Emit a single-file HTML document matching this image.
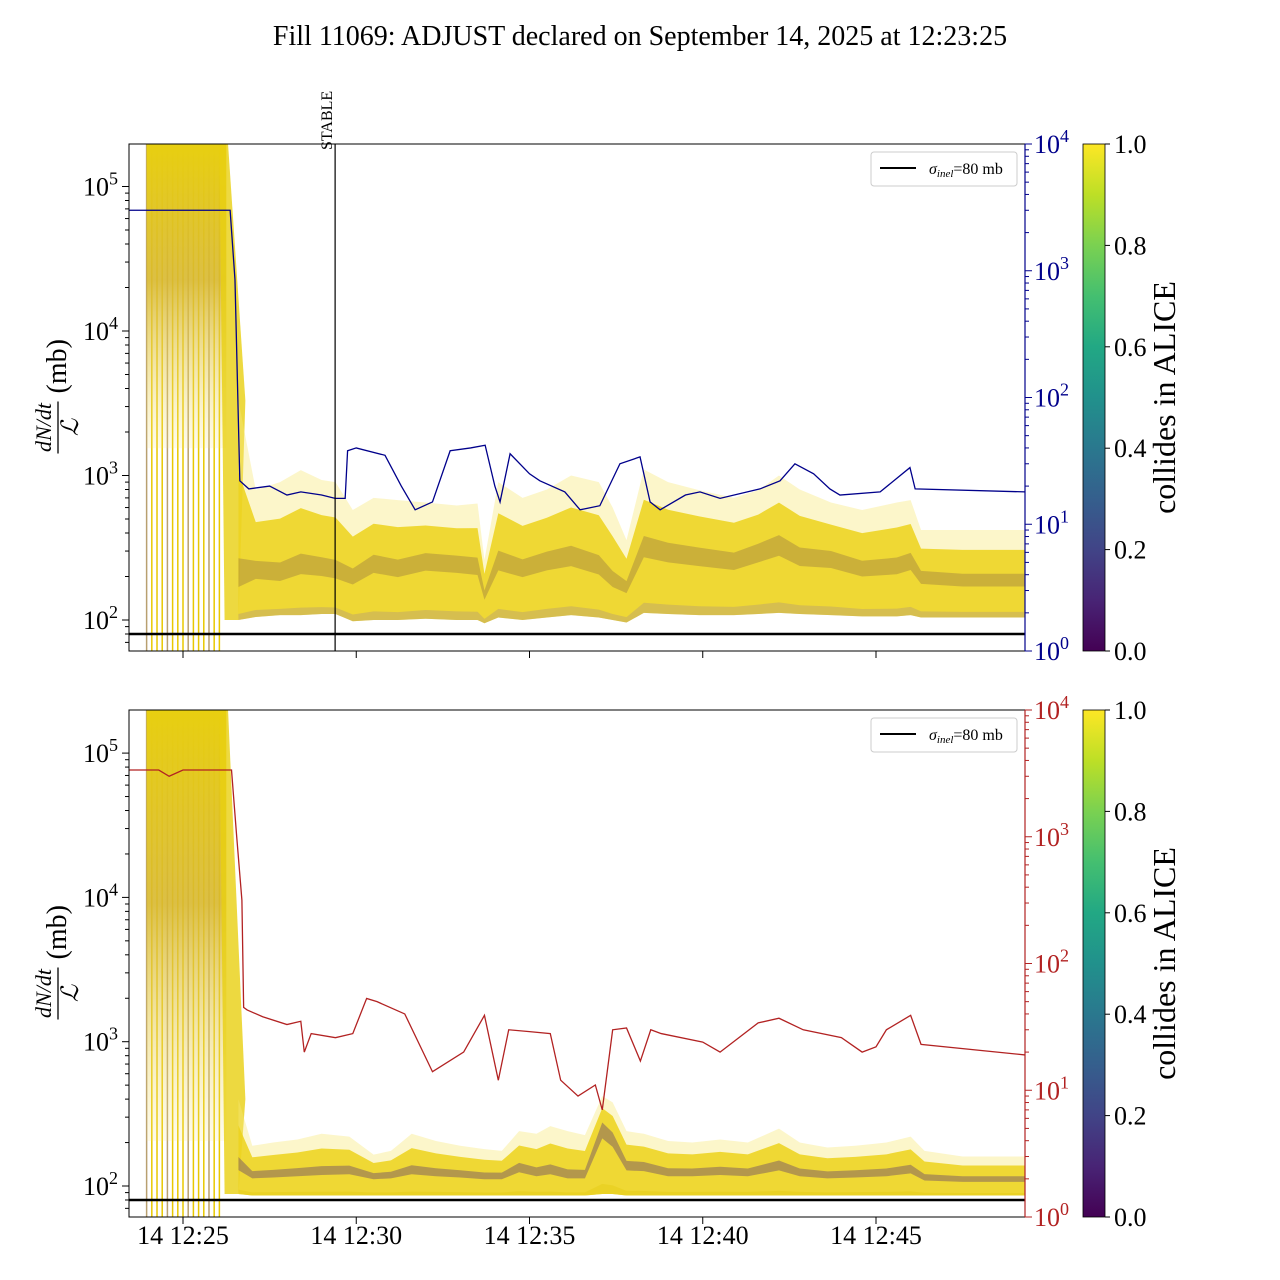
<!DOCTYPE html>
<html><head><meta charset="utf-8">
<style>
html,body{margin:0;padding:0;background:#fff;}
svg{display:block;font-family:"Liberation Serif","DejaVu Serif",serif;}
</style></head>
<body>
<svg id="chart" width="1280" height="1280" viewBox="0 0 1280 1280" xmlns="http://www.w3.org/2000/svg">
<defs>
  <linearGradient id="viridis" x1="0" y1="1" x2="0" y2="0">
    <stop offset="0" stop-color="#440154"/><stop offset="0.1" stop-color="#482475"/><stop offset="0.2" stop-color="#414487"/>
    <stop offset="0.3" stop-color="#355f8d"/><stop offset="0.4" stop-color="#2a788e"/><stop offset="0.5" stop-color="#21918c"/>
    <stop offset="0.6" stop-color="#22a884"/><stop offset="0.7" stop-color="#44bf70"/><stop offset="0.8" stop-color="#7ad151"/>
    <stop offset="0.9" stop-color="#bddf26"/><stop offset="1" stop-color="#fde725"/>
  </linearGradient>
  <linearGradient id="earlyTop" x1="0" y1="0" x2="0" y2="1">
    <stop offset="0" stop-color="#e8cf10"/><stop offset="0.45" stop-color="#d8b830" stop-opacity="0.9"/><stop offset="1" stop-color="#f5e27a" stop-opacity="0.15"/>
  </linearGradient>
  <clipPath id="clipTop"><rect x="129" y="144" width="896" height="507"/></clipPath>
  <clipPath id="clipBot"><rect x="129" y="710" width="896" height="507"/></clipPath>
</defs>
<text x="640" y="45" font-size="28" text-anchor="middle">Fill 11069: ADJUST declared on September 14, 2025 at 12:23:25</text>
<g id="top"></g>
<g id="bot"></g>
</svg>
<script>
// ---- data ----
const xTickTimes = [25, 30, 35, 40, 45];
const xTickLabels = ["14 12:25", "14 12:30", "14 12:35", "14 12:40", "14 12:45"];
const leftTickExps = [2, 3, 4, 5];
const rightTickExps = [0, 1, 2, 3, 4];
const cbarTicks = ["0.0", "0.2", "0.4", "0.6", "0.8", "1.0"];
const spikeTimes = [23.95,24.1,24.25,24.4,24.55,24.7,24.85,25.0,25.15,25.3,25.45,25.6,25.75,25.9,26.05];
const stableTime = 29.39;
const sigmaInel = 80;

// top panel luminosity (blue, right axis)
const blueTimes = [23.44,26.36,26.5,26.64,26.9,27.5,28.0,28.4,29.0,29.39,29.68,29.75,30.0,30.83,31.3,31.7,32.2,32.71,33.3,33.72,34.0,34.15,34.44,35.0,35.3,36.02,36.46,37.03,37.61,38.19,38.48,38.77,39.5,39.92,40.5,41.65,42.23,42.66,43.2,43.67,43.96,45.12,45.98,46.13,49.3];
const blueValues = [3000,3000,850,22,19,20,17,18,17,16,16,38,40,35,20,13,15,38,40,42,20,15,36,25,22,18,13,14,30,34,15,13,17,18,16,19,22,30,25,19,17,18,28,19,18];

// top panel band (dN/dt / L, mb)
const topBandTimes = [26.6,27.1,27.8,28.4,29.0,29.4,29.9,30.5,31.2,32.0,32.9,33.5,33.7,34.1,34.8,35.5,36.2,37.0,37.4,37.8,38.3,39.0,39.9,40.9,41.6,42.2,42.8,43.7,44.6,45.6,46.0,46.3,47.5,49.3];
const topUpper = [3300,795,900,1090,930,900,577,700,676,650,620,640,260,900,700,800,1000,900,600,357,1100,900,790,700,790,1000,800,650,577,650,676,420,420,420];
const topCenter = [190,220,210,240,230,220,200,250,230,260,250,240,150,260,230,260,280,240,190,170,330,300,280,260,300,340,280,270,230,240,260,200,190,190];
const topLower = [100,105,108,108,110,110,98,100,100,102,100,100,95,104,100,104,108,104,100,96,112,110,108,108,110,112,110,108,106,106,108,104,104,104];

// bottom panel luminosity (red, right axis)
const redTimes = [23.44,24.3,24.6,25.0,26.4,26.55,26.7,26.75,26.85,27.3,28.0,28.4,28.5,28.7,29.4,29.9,30.3,30.6,31.4,32.2,33.1,33.7,34.1,34.4,35.0,35.6,35.9,36.4,36.9,37.1,37.4,37.8,38.2,38.5,38.8,40.0,40.5,41.6,42.2,42.9,44.0,44.6,45.0,45.3,46.0,46.3,49.3];
const redValues = [3360,3360,3000,3360,3360,1000,316,45,43,38,33,35,20,28,26,28,53,50,40,14,20,39,12,30,29,28,12,9,11,7,30,31,17,30,28,24,20,34,37,30,26,20,22,30,39,23,19];

// bottom panel band
const botBandTimes = [26.6,27.0,27.6,28.3,29.0,29.8,30.5,31.0,31.6,32.3,33.0,33.7,34.2,34.7,35.2,35.6,36.1,36.6,37.1,37.4,37.8,38.3,39.0,39.7,40.5,41.3,42.2,42.8,43.6,44.4,45.3,46.0,46.4,47.5,49.3];
const botUpper = [400,190,200,210,230,220,165,175,230,205,190,180,175,240,230,260,240,225,420,380,240,230,205,200,210,200,250,200,185,190,200,220,175,160,160];
const botCenter = [140,120,122,125,128,130,118,120,130,125,122,118,118,135,125,130,120,120,260,220,140,138,125,125,128,125,140,125,120,122,125,132,115,112,112];
const botLower = [88,86,86,86,86,86,86,86,86,86,86,86,86,86,86,86,86,86,88,88,86,86,86,86,86,86,86,86,86,86,86,86,86,86,86];

// ---- scales ----
const NS = "http://www.w3.org/2000/svg";
function x(t){ return 183 + (t - 25) * 34.65; }
const panels = {
  top: { g: document.getElementById('top'), y0: 144, y1: 651, yL: v => 620 - (Math.log10(v) - 2) * 144.5, yR: v => 651 - Math.log10(v) * 126.75, rightColor: "#00008b", clip: "clipTop" },
  bot: { g: document.getElementById('bot'), y0: 710, y1: 1217, yL: v => 1186 - (Math.log10(v) - 2) * 144.3, yR: v => 1217 - Math.log10(v) * 126.75, rightColor: "#b22222", clip: "clipBot" }
};
function el(tag, attrs, parent){ const e = document.createElementNS(NS, tag); for (const k in attrs) e.setAttribute(k, attrs[k]); parent.appendChild(e); return e; }

function band(g, p, times, up, lo, fill, op){
  let pts = times.map((t,i) => x(t) + "," + p.yL(up[i]));
  for (let i = times.length - 1; i >= 0; i--) pts.push(x(times[i]) + "," + p.yL(lo[i]));
  return el('polygon', { points: pts.join(" "), fill: fill, 'fill-opacity': op }, g);
}
function mix(a, b, f){ return a.map((v,i) => Math.exp(Math.log(v) * (1 - f) + Math.log(b[i]) * f)); }

function drawPanel(key, times, up, ce, lo, lineT, lineV, isBottom){
  const p = panels[key], g = p.g;
  const data = el('g', { 'clip-path': 'url(#' + p.clip + ')' }, g);
  
  
  spikeTimes.forEach((t,i) => {
    const s = el('line', { x1: x(t), x2: x(t), y1: p.y0, y2: p.y1, stroke: i % 4 === 0 ? "#b8a070" : "#e8c800", 'stroke-width': 1.5 }, data);
    
    
  });
  const blk = el('rect', { x: x(23.95), y: p.y0, width: x(26.25) - x(23.95), height: (p.y1 - p.y0) * (key === 'top' ? 0.6 : 0.85), fill: "url(#earlyTop)" }, data);
  
  
  const tr = el('polygon', { points: [x(26.05)+","+p.y0, x(26.3)+","+p.y0, x(26.8)+","+p.yL(up[0]), x(26.6)+","+p.yL(lo[0]), x(26.2)+","+p.yL(lo[0])].join(" "), fill: "#e8cf10", 'fill-opacity': 0.8 }, data);
  
  
  const b1 = band(data, p, times, up, lo, "#f7e97a", 0.4);
  
  
  const b2 = band(data, p, times, mix(up, ce, 0.4), lo, "#ecd21a", 0.85);
  
  
  const b3 = band(data, p, times, mix(ce, up, 0.12), mix(ce, lo, 0.18), isBottom ? "#6a4a6a" : "#a08040", 0.45);
  
  
  const b4 = band(data, p, times, mix(lo, ce, 0.15), lo, isBottom ? "#e8d020" : "#8a70a0", isBottom ? 0.7 : 0.25);
  
  
  const sl = el('line', { x1: 129, x2: 1025, y1: p.yL(sigmaInel), y2: p.yL(sigmaInel), stroke: "#000", 'stroke-width': 2.5 }, data);
  
  
  const lp = el('polyline', { points: lineT.map((t,i) => x(t) + "," + p.yR(lineV[i])).join(" "), fill: "none", stroke: p.rightColor, 'stroke-width': 1.3 }, data);
  
  
  const fr = el('rect', { x: 129, y: p.y0, width: 896, height: p.y1 - p.y0, fill: "none", stroke: "#000", 'stroke-width': 1 }, g);
  
  
  el('line', { x1: 1025, x2: 1025, y1: p.y0, y2: p.y1, stroke: p.rightColor, 'stroke-width': 1.2 }, g);
  leftTickExps.forEach(e => {
    const y = p.yL(Math.pow(10, e));
    el('line', { x1: 122, x2: 129, y1: y, y2: y, stroke: "#000" }, g);
    const tx = el('text', { x: 118, y: y + 9, 'font-size': 26, 'text-anchor': 'end' }, g);
    
    
    tx.innerHTML = '10<tspan dy="-11" font-size="18">' + e + '</tspan>';
    for (let m = 2; m < 10; m++) {
      const ym = p.yL(m * Math.pow(10, e));
      if (ym > p.y0 && ym < p.y1) el('line', { x1: 125, x2: 129, y1: ym, y2: ym, stroke: "#000" }, g);
    }
  });
  [6,7,8,9].forEach(m => { const ym = p.yL(m * 10); if (ym < p.y1) el('line', { x1: 125, x2: 129, y1: ym, y2: ym, stroke: "#000" }, g); });
  rightTickExps.forEach(e => {
    const y = p.yR(Math.pow(10, e));
    el('line', { x1: 1025, x2: 1032, y1: y, y2: y, stroke: p.rightColor }, g);
    const tx = el('text', { x: 1034, y: y + 9, 'font-size': 26, fill: p.rightColor }, g);
    
    
    tx.innerHTML = '10<tspan dy="-11" font-size="18">' + e + '</tspan>';
    if (e < 4) for (let m = 2; m < 10; m++) { const ym = p.yR(m * Math.pow(10, e)); el('line', { x1: 1025, x2: 1029, y1: ym, y2: ym, stroke: p.rightColor }, g); }
  });
  xTickTimes.forEach((t,i) => {
    el('line', { x1: x(t), x2: x(t), y1: p.y1, y2: p.y1 + 7, stroke: "#000" }, g);
    if (isBottom) {
      const tx = el('text', { x: x(t), y: p.y1 + 27, 'font-size': 26, 'text-anchor': 'middle' }, g);
      
      
      tx.textContent = xTickLabels[i];
    }
  });
  const cy = (p.y0 + p.y1) / 2;
  const yl = el('g', { transform: 'translate(58,' + cy + ') rotate(-90)' }, g);
  
  
  yl.innerHTML = '<text x="-30" y="-7" font-size="22" font-style="italic" text-anchor="middle">dN/dt</text>' +
    '<line x1="-56" x2="-4" y1="0" y2="0" stroke="#000" stroke-width="1.3"/>' +
    '<text x="-30" y="20" font-size="24" font-style="italic" text-anchor="middle">ℒ</text>' +
    '<text x="4" y="8" font-size="28">(mb)</text>';
  const lg = el('g', {}, g);
  
  
  lg.innerHTML = '<rect x="871" y="' + (p.y0 + 8) + '" width="146" height="34" rx="3" fill="#fff" stroke="#ccc"/>' +
    '<line x1="880" x2="916" y1="' + (p.y0 + 24) + '" y2="' + (p.y0 + 24) + '" stroke="#000" stroke-width="2"/>' +
    '<text x="929" y="' + (p.y0 + 30) + '" font-size="16"><tspan font-style="italic">σ</tspan><tspan font-size="11" dy="3" font-style="italic">inel</tspan><tspan dy="-3">=80 mb</tspan></text>';
  const cb = el('rect', { x: 1083, y: p.y0, width: 22, height: p.y1 - p.y0, fill: "url(#viridis)", stroke: "#000", 'stroke-width': 0.8 }, g);
  
  
  cbarTicks.forEach((lab, i) => {
    const y = p.y1 - i * (p.y1 - p.y0) / 5;
    el('line', { x1: 1105, x2: 1110, y1: y, y2: y, stroke: "#000" }, g);
    const tx = el('text', { x: 1114, y: y + 9, 'font-size': 26 }, g);
    
    
    tx.textContent = lab;
  });
  const ct = el('text', { x: 0, y: 0, 'font-size': 32, 'text-anchor': 'middle', transform: 'translate(1175,' + cy + ') rotate(-90)' }, g);
  
  
  ct.textContent = "collides in ALICE";
}

drawPanel('top', topBandTimes, topUpper, topCenter, topLower, blueTimes, blueValues, false);
drawPanel('bot', botBandTimes, botUpper, botCenter, botLower, redTimes, redValues, true);

const tg = panels.top.g;
const st = el('line', { x1: x(stableTime), x2: x(stableTime), y1: 144, y2: 651, stroke: "#000", 'stroke-width': 1.2 }, tg);


const stt = el('text', { x: 0, y: 0, 'font-size': 16, transform: 'translate(' + (x(stableTime) - 3) + ',150) rotate(-90)' }, tg);


stt.textContent = "STABLE";
</script>
</body></html>
